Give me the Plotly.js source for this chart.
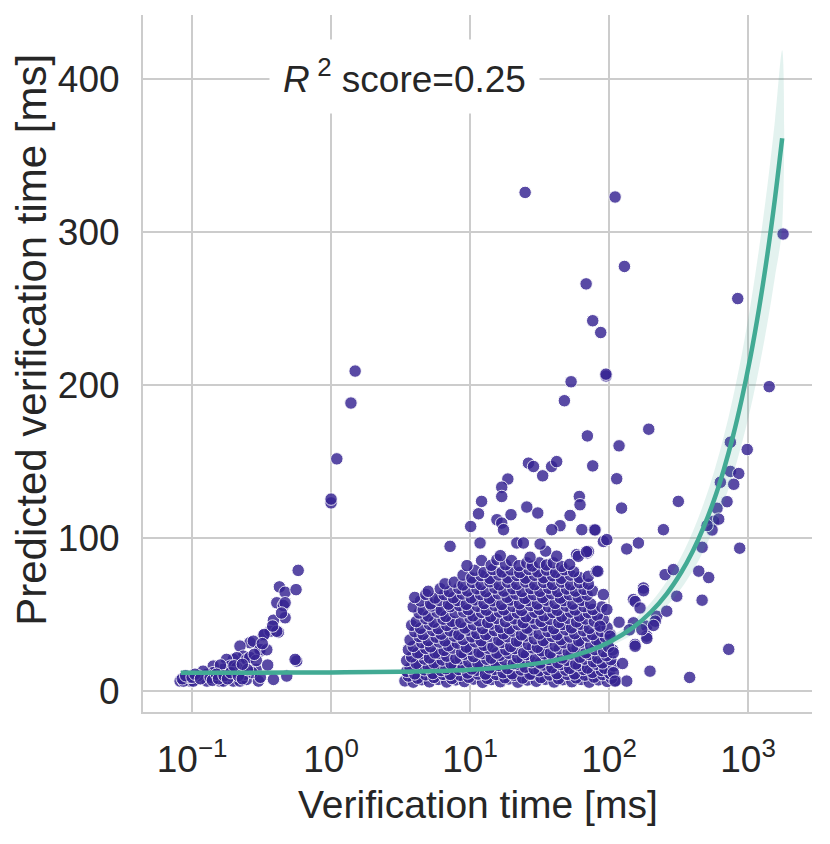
<!DOCTYPE html>
<html>
<head>
<meta charset="utf-8">
<script src="https://cdn.plot.ly/plotly-3.0.1.min.js"></script>
<style>
  html, body { margin: 0; padding: 0; background: #ffffff; }
  #chart { width: 830px; height: 844px; }
</style>
</head>
<body>
<div id="chart"></div>
<script>
// ---------- data ----------
const xTickVals = [0.1, 1, 10, 100, 1000];
const xTickText = ['10<sup>\u22121</sup>', '10<sup>0</sup>', '10<sup>1</sup>', '10<sup>2</sup>', '10<sup>3</sup>'];
const yTickVals = [0, 100, 200, 300, 400];
const yTickText = ['0', '100', '200', '300', '400'];
const xTitle = 'Verification time [ms]';
const yTitle = 'Predicted verification time [ms]';
const r2Text = '<i>R</i>\u2009<sup>2</sup> score=0.25';

// small-time cluster (x < 1 ms)
const lowPts = [
  [0.58,78.9],[0.425,68.1],[0.467,64.6],[0.56,66.3],[0.407,57.7],[0.454,55.9],[0.467,57.7],
  [0.467,47.9],[0.385,46.3],[0.418,38.5],[0.326,36.3],[0.364,39.1],[0.33,37.0],[0.407,39.1],
  [0.308,26.1],[0.261,31.6],[0.221,29.4],[0.276,32.6],[0.308,27.2],[0.234,22.8],[0.198,20.7],
  [0.21,21.8],[0.247,20.7],[0.177,20.7],[0.188,16.3],[0.21,15.3],[0.168,14.2],[0.142,16.3],
  [0.289,14.2],[0.142,12.0],[0.128,10.9],[0.12,13.0],[0.108,7.6],[0.097,6.5],[0.082,6.5],
  [0.087,6.5],[0.102,6.5],[0.128,6.5],[0.159,6.5],[0.168,6.5],[0.198,6.5],[0.221,6.5],
  [0.247,7.6],[0.3,6.5],[0.385,7.6],[0.48,9.8],[0.566,19.6],[0.551,20.7],[0.345,27.0],
  [0.26,22.0],[0.29,20.0],[0.27,12.0],[0.24,11.0],[0.19,10.0],[0.15,9.0],[0.11,10.0],
  [0.095,9.0],[0.16,17.0],[0.2,12.0],[0.085,8.0],[0.09,10.0],[0.1,9.0],[0.105,11.0],
  [0.115,8.0],[0.135,9.0],[0.14,7.0],[0.15,11.0],[0.155,8.0],[0.17,10.0],[0.18,8.0],
  [0.19,12.0],[0.215,10.0],[0.23,8.0],[0.25,14.0],[0.35,17.0],[0.31,9.0],[0.2,16.5],
  [0.23,17.5],[0.28,24.0],[0.32,31.0],[0.38,42.5],[0.44,51.0]
];

// isolated points near 1 ms
const onePts = [[1.0,123.0],[1.0,125.5],[1.1,151.8],[1.39,188.3],[1.49,209.2]];

// main mass (3 - 110 ms)
const massPts = [
  [3.4,6.6],[3.9,5.8],[4.5,7.4],[5.1,6.0],[5.9,7.6],[6.8,5.9],[7.9,7.3],[9.1,6.2],[10.6,7.8],[12.3,5.7],[14.2,7.5],[16.5,6.1],[19.0,7.9],[22.1,5.8],[25.8,7.2],[30.0,6.4],[34.8,7.7],[40.2,5.9],[46.5,7.4],[54,6.1],[63,7.6],[72,5.8],[84,7.3],[97,6.3],[112,7.0],
  [3.6,9.8],[4.2,8.4],[4.8,10.6],[5.5,8.9],[6.4,10.9],[7.4,8.2],[8.5,10.3],[9.8,9.0],[11.4,11.1],[13.3,8.3],[15.4,10.8],[17.8,8.7],[20.6,10.2],[23.9,8.5],[27.8,11.0],[32.3,8.8],[37.5,10.5],[43.3,8.1],[50,10.9],[58,8.6],[67,10.4],[78,9.1],[90,10.7],[104,8.4],
  [3.5,12.9],[4.0,11.2],[4.7,13.9],[5.4,11.5],[6.2,13.4],[7.2,10.9],[8.3,14.1],[9.6,11.8],[11.1,13.6],[12.9,11.1],[15.0,14.2],[17.3,12.0],[20.1,11.3],[23.3,13.8],[27.0,11.0],[31.4,13.3],[36.4,14.0],[42.1,11.4],[48.8,13.7],[56.5,11.2],[65.5,14.1],[75.9,12.2],[88,13.5],[101,11.6],
  [3.7,15.0],[4.3,17.2],[5.0,15.4],[5.8,17.6],[6.7,14.6],[7.7,16.9],[8.9,15.8],[10.3,14.4],[11.9,17.5],[13.8,15.1],[16.0,16.8],[18.6,14.7],[21.5,17.4],[24.9,15.6],[28.9,14.5],[33.5,17.0],[38.8,15.2],[45.0,17.3],[52.1,14.8],[60.4,16.6],[70,15.0],[81,17.5],[93,14.9],[108,16.4],
  [3.5,19.9],[4.1,18.1],[4.7,20.9],[5.5,18.4],[6.3,20.3],[7.3,17.8],[8.5,21.1],[9.8,19.0],[11.4,18.2],[13.2,20.8],[15.3,18.6],[17.7,20.4],[20.5,17.9],[23.8,21.0],[27.6,19.2],[31.9,18.3],[37.0,20.7],[42.9,18.5],[49.7,20.1],[57.6,17.7],[66.7,20.9],[77.3,19.1],[89.6,18.4],[103,20.5],
  [3.8,22.3],[4.4,24.4],[5.1,21.6],[5.9,24.6],[6.8,22.8],[7.9,21.4],[9.1,24.1],[10.6,22.5],[12.2,24.5],[14.2,21.5],[16.4,23.4],[19.0,24.7],[22.0,21.9],[25.5,23.8],[29.6,21.3],[34.3,24.3],[39.7,22.7],[46.0,21.6],[53.3,24.2],[61.8,22.1],[71.6,23.9],[83,21.5],[96,23.1],
  [3.6,27.0],[4.2,25.0],[4.8,27.9],[5.6,24.9],[6.5,26.6],[7.5,28.1],[8.7,25.2],[10.0,27.3],[11.6,25.4],[13.5,28.0],[15.6,24.8],[18.1,26.9],[21.0,27.8],[24.3,25.1],[28.2,28.2],[32.6,26.3],[37.8,24.9],[43.8,27.6],[50.8,25.5],[58.8,28.0],[68.2,25.0],[79,27.1],[91.5,25.7],[106,26.9],
  [3.9,29.2],[4.5,31.6],[5.2,28.9],[6.0,32.0],[7.0,29.6],[8.1,31.3],[9.4,28.7],[10.9,32.1],[12.6,29.9],[14.6,28.8],[16.9,31.8],[19.6,29.1],[22.7,32.2],[26.3,30.4],[30.5,28.6],[35.3,31.9],[40.9,29.4],[47.4,31.5],[54.9,28.9],[63.6,32.0],[73.7,29.5],[85.4,31.4],[99,29.0],
  [3.7,33.4],[4.3,35.6],[5.0,33.0],[5.7,35.2],[6.6,32.8],[7.7,35.9],[8.9,33.7],[10.3,35.4],[12.0,32.9],[13.9,35.8],[16.1,33.3],[18.6,35.5],[21.6,32.6],[25.0,36.0],[29.0,34.1],[33.6,33.0],[38.9,35.7],[45.1,33.6],[52.2,35.3],[60.5,32.8],[70.1,35.9],[81.3,33.4],[94,35.1],
  [4.0,38.8],[4.6,37.0],[5.4,39.6],[6.2,37.2],[7.2,39.3],[8.3,36.8],[9.7,39.8],[11.2,37.6],[13.0,36.9],[15.0,39.5],[17.4,37.4],[20.2,39.2],[23.4,36.7],[27.1,39.9],[31.4,37.3],[36.4,38.9],[42.2,36.8],[48.9,40.0],[56.6,37.5],[65.6,39.4],[76,36.9],[88,39.0],[102,37.1],
  [3.8,43.0],[4.4,41.0],[5.1,43.6],[5.9,40.8],[6.8,42.9],[7.9,43.9],[9.2,41.2],[10.6,43.3],[12.3,40.9],[14.3,43.8],[16.5,41.5],[19.2,40.7],[22.2,43.4],[25.7,41.1],[29.8,44.0],[34.5,42.6],[40.0,40.8],[46.4,43.5],[53.7,41.3],[62.2,43.7],[72.1,41.0],[83.5,43.2],[96.8,41.4],
  [4.1,45.4],[4.8,47.3],[5.5,45.0],[6.4,47.0],[7.4,45.6],[8.6,44.9],[10.0,47.8],[11.6,45.9],[13.4,44.8],[15.5,47.5],[18.0,45.3],[20.8,47.2],[24.1,44.7],[27.9,47.7],[32.4,45.5],[37.5,46.9],[43.5,44.9],[50.4,47.6],[58.4,45.2],[67.6,47.1],[78.4,45.6],[90.8,46.8],
  [4.3,51.0],[5.0,49.0],[5.8,51.6],[6.7,48.8],[7.8,51.2],[9.0,51.8],[10.5,49.1],[12.1,51.4],[14.1,48.7],[16.3,51.7],[18.9,49.3],[21.9,51.1],[25.3,48.6],[29.3,51.5],[34.0,49.2],[39.4,51.3],[45.7,48.8],[52.9,51.6],[61.3,49.0],[71,51.2],[82.3,49.4],
  [3.9,55.0],[4.6,53.0],[5.3,55.6],[6.2,52.8],[7.2,55.2],[8.4,55.8],[9.7,53.2],[11.3,55.4],[13.1,52.9],[15.1,55.7],[17.5,53.1],[20.3,55.3],[23.5,52.7],[27.3,55.9],[31.6,53.4],[36.6,55.1],[42.4,52.8],[49.2,55.5],[57,53.0],[66,55.2],[76.5,53.3],[88.7,55.0],
  [4.4,58.9],[5.2,57.0],[6.0,59.3],[7.0,56.8],[8.1,59.2],[9.4,56.7],[10.9,59.6],[12.6,57.2],[14.6,59.0],[16.9,56.6],[19.6,59.5],[22.7,57.1],[26.3,59.2],[30.5,56.9],[35.3,59.4],[40.9,57.3],[47.4,59.1],[54.9,56.8],[63.6,59.3],[73.7,57.0],
  [4.0,61.2],[4.8,63.2],[5.6,60.8],[6.5,63.0],[7.6,61.0],[8.8,63.4],[10.2,60.9],[11.9,63.1],[13.8,60.7],[16.0,63.5],[18.5,61.3],[21.4,63.3],[24.8,60.6],[28.7,62.9],[33.3,61.1],[38.6,63.6],[44.7,60.8],[51.8,63.0],[60,61.4],[69.5,62.8],
  [5.0,65.2],[6.1,66.9],[7.1,65.0],[8.3,67.2],[9.6,65.4],[11.2,66.8],[13.0,64.9],[15.1,67.3],[17.5,65.3],[20.3,66.9],[23.6,65.1],[27.4,67.0],[31.8,65.2],[36.8,67.2],[42.7,65.0],[49.5,66.7],[57.4,65.3],[66,66.5],[76,65.6],
  [6.6,70.1],[7.7,71.2],[8.9,69.3],[10.4,71.0],[12.0,69.6],[13.9,71.4],[16.2,69.4],[18.7,71.1],[21.7,69.8],[25.2,71.3],[29.2,69.5],[33.9,71.0],[39.3,69.7],[45.6,71.2],[52.9,69.4],[61.4,70.8],[71,69.9],
  [8.9,75.8],[10.3,73.9],[12.0,75.5],[13.9,73.6],[16.1,75.9],[18.7,74.0],[21.7,75.6],[25.1,73.8],[29.1,75.7],[33.8,74.1],[39.2,75.4],[45.4,73.7],[52.7,75.8],[61.1,74.2],[70.9,75.0],
  [10.8,78.9],[12.6,77.6],[14.6,79.4],[17.0,77.8],[19.7,79.2],[22.8,77.5],[26.5,79.5],[30.7,77.9],[35.6,79.1],[41.3,77.6],[47.9,79.3],[55.6,78.0],
  [12.1,85.3],[14.2,82.2],[15.6,85.9],[18.0,82.6],[19.9,85.3],[22.5,82.0],[25.6,83.8],[28.0,81.7],[31.6,83.8],[35.5,82.4],[39.7,83.8],[45.7,81.5],[52,82.8],
  [58.4,89.2],[70,90.3],[81,78.3],[16.5,88.5],[27,87.5],[42,88.2],[35,91.5],[9.5,82]
];

// scattered points above the mass and beyond 100 ms
const outPts = [
  [24.9,326],[110.5,323],[129,277.6],[68.4,266.2],[76.3,242.1],[87.1,234.4],[95.1,206],[95,207.2],
  [53.3,202.2],[47.7,189.8],[69.8,166.8],[118,160.3],[193,171.2],[76.3,147.2],[113.5,138.8],[123,119.6],
  [26.3,149],[28.6,146.8],[38.6,146.8],[42,150],[33.3,140.7],[18.7,138.6],[16.9,133.3],[16.9,127.2],
  [61.1,127.2],[61.8,121.8],[12.1,124],[25.6,120.3],[30.7,116.4],[11.5,115.9],[19.7,115.3],[52.4,114.8],
  [15.6,112],[16.9,109.8],[17.4,105.5],[10.1,107.6],[44.4,108.1],[38.7,105.5],[63.7,105.5],[78.4,105.5],
  [91,97.8],[96.4,99],[134,92.9],[162.6,96.8],[246,105.5],[315,124],[7.18,94.6],[11.8,96.8],
  [21.7,96.8],[24.2,96.8],[31.9,96.1],[71,91.3],[60.1,88.1],[83,78.3],
  [149.6,59.8],[176.6,67.4],[91,63.1],[253,76.1],[290,79.4],[307,62],[149.6,44.6],[186.6,42.4],
  [220,48.9],[260,52.2],[153.8,30.5],[186.6,35.9],[197,13],[134,6.5],[107.4,12],[110.5,6.5],
  [107.4,25],[101.6,35.9],[96.4,53.3],[86.1,42.4],[79.3,105.3],[68.9,91.1],
  [1786,298.8],[843,256.6],[1419,199],[746,162.7],[986,157.9],[871,93.4],[706,123.8],[632,136.5],
  [746,143.6],[857,142.2],[789,135.2],[598,119.5],[565,111],[615,112.4],[551,105.3],[507,108.2],
  [467,94],[521,74.2],[442,78.4],[467,59.4],[215,45.7],[177,65.6],[154,58.5],[380,8.9],
  [726,27.3],[154,29.3],[187,34.4],[209,42.9],[172,40.1],[167,54.3],[140,40],[125,18],[118,45]
];

// fitted regression line and its confidence band
const lineX = [0.083,0.2,0.5,1,2,5,10,20,40,70,100,150,200,260,330,400,480,570,670,780,900,1040,1200,1380,1560,1760];
const lineY = [12.0,12.0,12.1,12.2,12.4,13.0,14.0,16.0,19.9,25.9,31.9,41.8,51.7,63.6,77.5,91.4,107.3,125.1,145.0,166.8,190.7,218.4,250.2,285.9,321.7,361.4];
const bandHalf = [1.5,1.5,1.4,1.4,1.3,1.2,1.1,1.0,1.3,2.0,3.0,4.5,6.2,8.2,10.5,12.8,15.4,18.4,21.7,25.3,29.2,33.8,39.1,45.0,51.0,57.5];

// ---------- build traces ----------
const allPts = lowPts.concat(onePts, massPts, outPts);
const scatter = {
  type: 'scatter', mode: 'markers',
  x: allPts.map(p => p[0]), y: allPts.map(p => p[1]),
  marker: { size: 12.5, color: 'rgb(53,35,146)', opacity: 0.82, line: { color: '#ffffff', width: 1 } },
  hoverinfo: 'x+y', showlegend: false
};
const upper = lineY.map((v, i) => v + bandHalf[i]);
const lower = lineY.map((v, i) => v - bandHalf[i]);
const band = {
  type: 'scatter', mode: 'lines',
  x: lineX.concat(lineX.slice().reverse()),
  y: upper.concat(lower.slice().reverse()),
  fill: 'toself', fillcolor: 'rgba(66,170,148,0.15)',
  line: { width: 0, shape: 'spline' }, hoverinfo: 'skip', showlegend: false
};
const fit = {
  type: 'scatter', mode: 'lines', x: lineX, y: lineY,
  line: { color: 'rgb(66,170,148)', width: 4.5, shape: 'spline' },
  showlegend: false
};

const fontFam = 'Liberation Sans, Arial, Helvetica, sans-serif';
const ink = '#262626';
const layout = {
  width: 830, height: 844,
  margin: { l: 143, r: 18, t: 15, b: 132 },
  paper_bgcolor: '#ffffff', plot_bgcolor: '#ffffff',
  font: { family: fontFam, color: ink },
  xaxis: {
    type: 'log', range: [-1.353, 3.46],
    tickmode: 'array', tickvals: xTickVals, ticktext: xTickText,
    showgrid: true, gridcolor: '#cccccc', gridwidth: 1.7,
    zeroline: false, showline: true, linecolor: '#cccccc', linewidth: 2,
    ticks: '', tickfont: { size: 37, color: ink, family: fontFam },
    ticklabelstandoff: 14
  },
  yaxis: {
    range: [-13.7, 442],
    tickmode: 'array', tickvals: yTickVals, ticktext: yTickText,
    showgrid: true, gridcolor: '#cccccc', gridwidth: 1.7,
    zeroline: false, showline: true, linecolor: '#cccccc', linewidth: 2,
    ticks: '', tickfont: { size: 37, color: ink, family: fontFam },
    ticklabelstandoff: 14
  },
  annotations: [
    {
      xref: 'paper', yref: 'y', x: 0.391, y: 402, text: r2Text, showarrow: false,
      font: { size: 37, color: ink, family: fontFam },
      bgcolor: '#ffffff', borderpad: 13, xanchor: 'center', yanchor: 'middle'
    },
    {
      xref: 'paper', yref: 'paper', x: 0.5, y: -0.132, text: xTitle, showarrow: false,
      font: { size: 39, color: ink, family: fontFam }, xanchor: 'center', yanchor: 'middle'
    },
    {
      xref: 'paper', yref: 'paper', x: -0.166, y: 0.534, text: yTitle, showarrow: false,
      textangle: -90, font: { size: 42, color: ink, family: fontFam }, xanchor: 'center', yanchor: 'middle'
    }
  ]
};

Plotly.newPlot('chart', [scatter, band, fit], layout, { displayModeBar: false, staticPlot: true });
</script>
</body>
</html>
